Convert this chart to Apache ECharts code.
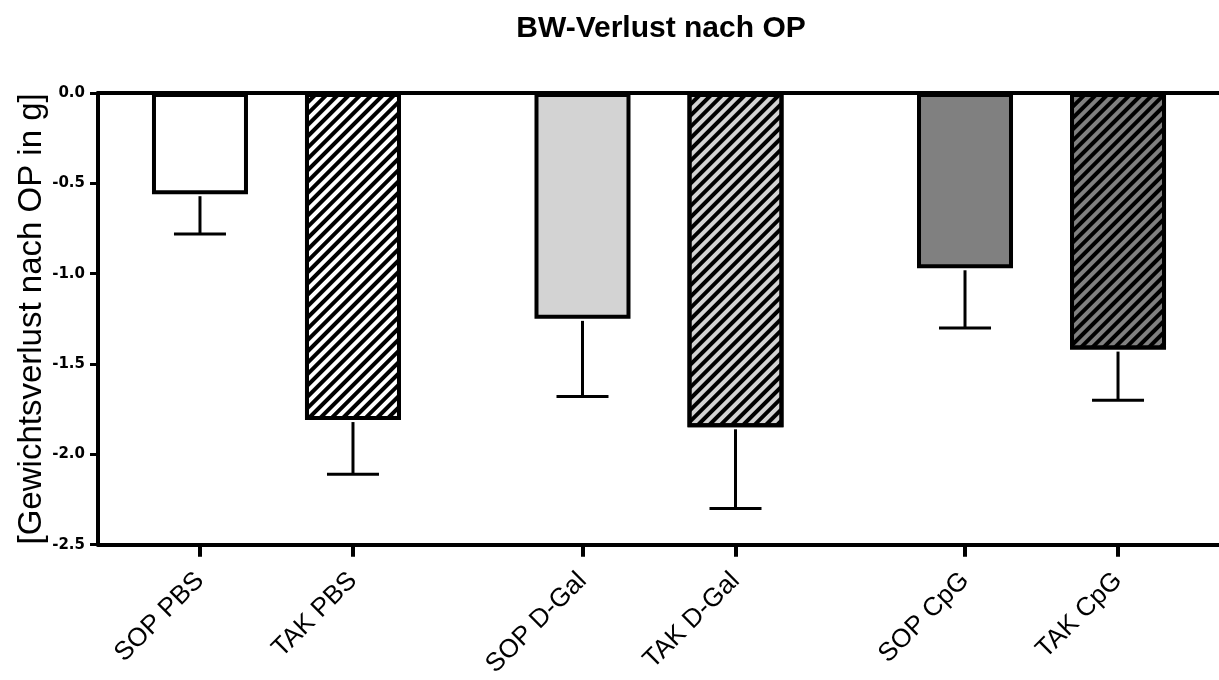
<!DOCTYPE html>
<html>
<head>
<meta charset="utf-8">
<title>BW-Verlust nach OP</title>
<script src="https://cdn.jsdelivr.net/npm/echarts@6/dist/echarts.min.js"></script>
<style>
  html, body { margin: 0; padding: 0; background: #fff; }
  #chart { width: 1219px; height: 680px; }
</style>
</head>
<body>
<div id="chart"></div>
<script>
// Group means (g) and SEM of body-weight change after surgery
const categories = ['SOP PBS', 'TAK PBS', 'SOP D-Gal', 'TAK D-Gal', 'SOP CpG', 'TAK CpG'];
const meanValues = [-0.56, -1.81, -1.25, -1.85, -0.97, -1.42];
const semValues = [0.22, 0.30, 0.43, 0.45, 0.33, 0.28];
const yTicks = [0, -0.5, -1.0, -1.5, -2.0, -2.5];

// Two bars per treatment, with a wider gap between treatments
const xPos = categories.map((_, i) => Math.floor(i / 2) * 5 + (i % 2) * 2);

const fills = ['#ffffff', '#ffffff', '#d3d3d3', '#d3d3d3', '#808080', '#808080'];
const hatch = {
  symbol: 'rect',
  symbolSize: 1,
  color: '#000000',
  dashArrayX: [1, 0],
  dashArrayY: [4, 4],
  rotation: -Math.PI / 4
};

const barData = meanValues.map((v, i) => ({
  value: [xPos[i], v],
  itemStyle: {
    color: fills[i],
    borderColor: '#000',
    borderWidth: 4,
    decal: i % 2 === 1 ? hatch : null
  }
}));

const errData = meanValues.map((v, i) => [xPos[i], v, v - semValues[i]]);

const X_MIN = -1.333, X_MAX = 13.32;

const chart = echarts.init(document.getElementById('chart'), null, { renderer: 'canvas' });

chart.setOption({
  animation: false,
  backgroundColor: '#ffffff',
  title: {
    text: 'BW-Verlust nach OP',
    left: 656,
    top: 9,
    textAlign: 'center',
    textStyle: {
      fontFamily: 'Liberation Sans, Arial, sans-serif',
      fontSize: 30,
      fontWeight: 'bold',
      color: '#000'
    }
  },
  grid: { left: 98, right: 0, top: 93, bottom: 132, containLabel: false },
  xAxis: [
    {
      type: 'value',
      position: 'bottom',
      min: X_MIN,
      max: X_MAX,
      axisLine: { show: true, onZero: false, lineStyle: { color: '#000', width: 4 } },
      axisTick: {
        show: true,
        customValues: xPos,
        length: 12,
        lineStyle: { color: '#000', width: 4 }
      },
      axisLabel: {
        show: true,
        customValues: xPos,
        rotate: 45,
        margin: 32,
        fontFamily: 'Liberation Sans, Arial, sans-serif',
        fontSize: 26,
        color: '#000',
        formatter: (v) => {
          const k = xPos.indexOf(Math.round(v));
          return k >= 0 ? categories[k] : '';
        }
      },
      splitLine: { show: false }
    },
    {
      type: 'value',
      position: 'top',
      min: X_MIN,
      max: X_MAX,
      axisLine: { show: true, onZero: false, lineStyle: { color: '#000', width: 4 } },
      axisTick: { show: false },
      axisLabel: { show: false },
      splitLine: { show: false }
    }
  ],
  yAxis: {
    type: 'value',
    min: -2.5,
    max: 0,
    interval: 0.5,
    name: '[Gewichtsverlust nach OP in g]',
    nameLocation: 'middle',
    nameRotate: 90,
    nameGap: 50,
    nameMoveOverlap: false,
    nameTextStyle: {
      fontFamily: 'Liberation Sans, Arial, sans-serif',
      fontSize: 33,
      color: '#000'
    },
    axisLine: { show: true, onZero: false, lineStyle: { color: '#000', width: 4 } },
    axisTick: { show: true, length: 8, lineStyle: { color: '#000', width: 3 } },
    axisLabel: {
      margin: 13,
      fontFamily: 'DejaVu Sans, sans-serif',
      fontSize: 15,
      fontWeight: 'bold',
      color: '#000',
      customValues: yTicks,
      formatter: (v) => v.toFixed(1)
    },
    splitLine: { show: false }
  },
  series: [
    {
      type: 'bar',
      xAxisIndex: 0,
      barWidth: 96,
      data: barData,
      z: 2
    },
    {
      type: 'custom',
      xAxisIndex: 0,
      z: 3,
      data: errData,
      renderItem: (params, api) => {
        const top = api.coord([api.value(0), api.value(1)]);
        const bot = api.coord([api.value(0), api.value(2)]);
        const half = 26;
        const st = { stroke: '#000', lineWidth: 3 };
        return {
          type: 'group',
          children: [
            { type: 'line', shape: { x1: top[0], y1: top[1] + 2, x2: bot[0], y2: bot[1] }, style: st },
            { type: 'line', shape: { x1: bot[0] - half, y1: bot[1], x2: bot[0] + half, y2: bot[1] }, style: st }
          ]
        };
      }
    }
  ]
});
</script>
</body>
</html>
